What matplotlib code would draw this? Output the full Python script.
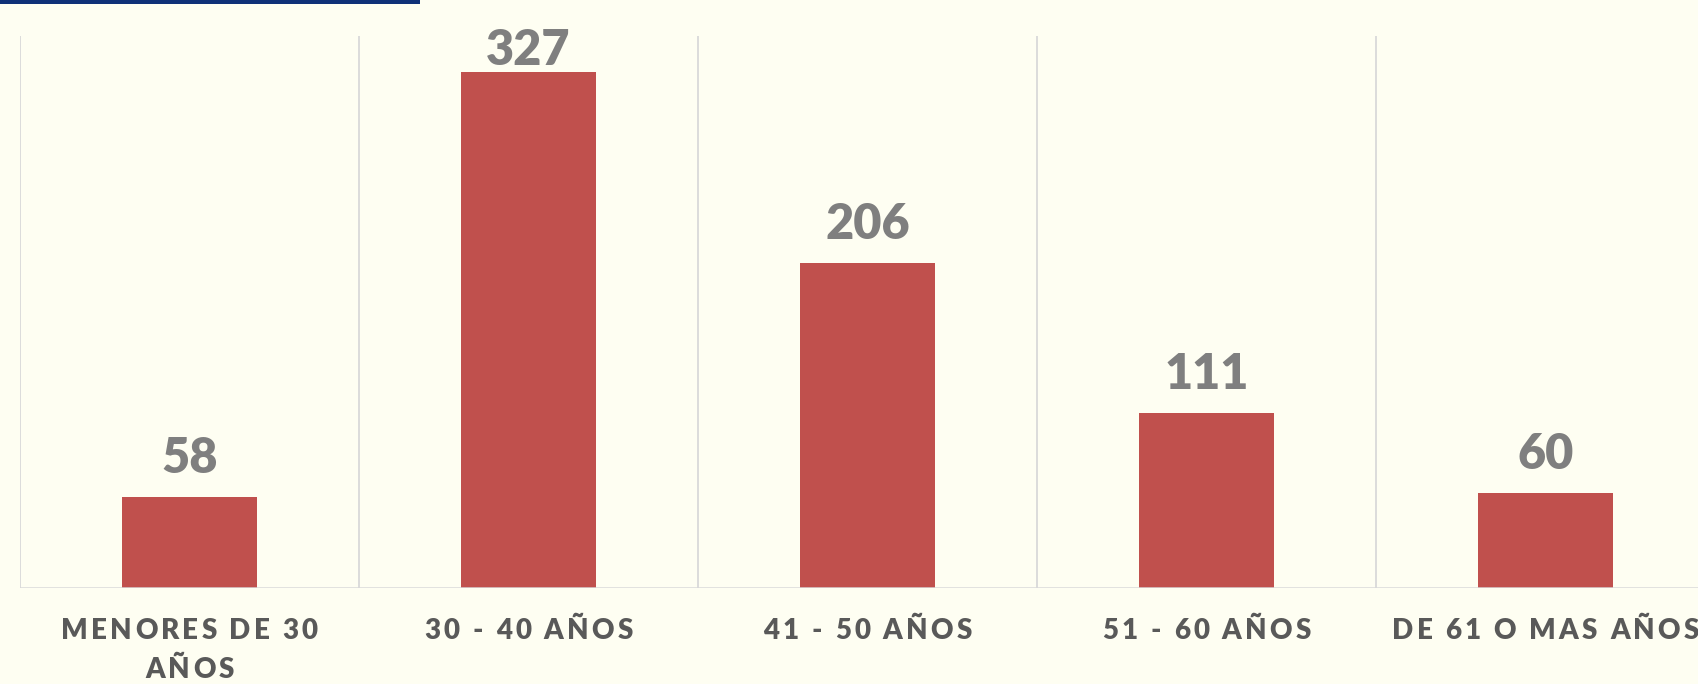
import matplotlib
matplotlib.use("Agg")
import matplotlib.pyplot as plt
from matplotlib.font_manager import FontProperties, findfont
from matplotlib.transforms import IdentityTransform
from matplotlib.patches import Rectangle
import numpy as np

categories = ["MENORES DE 30\nAÑOS", "30 - 40 AÑOS", "41 - 50 AÑOS", "51 - 60 AÑOS", "DE 61 O MAS AÑOS"]
values = [58, 327, 206, 111, 60]

BG = "#FEFEF2"
BAR = "#C0504D"
GRID = "#D9D9D9"
W, H = 1698, 684
DPI = 100

fig = plt.figure(figsize=(W / DPI, H / DPI), dpi=DPI, facecolor=BG)
fig.patches.append(Rectangle((0, 1 - 4 / H), 420 / W, 4 / H, transform=fig.transFigure,
                             facecolor="#0F3178", edgecolor="none"))

ax_left, ax_right = 20, 20 + 5 * 339
ax_top, ax_bot = 36, 588
ax = fig.add_axes([ax_left / W, 1 - ax_bot / H, (ax_right - ax_left) / W, (ax_bot - ax_top) / H])
ax.patch.set_alpha(0)
x = np.arange(len(values))
ax.bar(x, values, width=0.4, color=BAR, zorder=3)
ax.set_xlim(-0.5, len(values) - 0.5)
ax.set_ylim(0, 350)
for b in np.arange(-0.5, len(values), 1.0):
    ax.axvline(b, color=GRID, lw=1.3, zorder=1)
ax.axhline(0, color=GRID, lw=1.8, zorder=4)
for s in ax.spines.values():
    s.set_visible(False)
ax.set_xticks([])
ax.set_yticks([])

fpv = FontProperties(family="Lato", weight="heavy", size=35)
for xi, v in zip(x, values):
    px, py = ax.transData.transform((xi, v))
    top_from_top = H - py
    base = max(top_from_top - 24, 65)
    fig.text(px, H - base, str(v), transform=IdentityTransform(), fontproperties=fpv,
             color="#7F7F7F", ha="center", va="baseline")

fp = FontProperties(family="Lato", weight="heavy", size=20)
renderer = fig.canvas.get_renderer()
SP = 3.2


def tw(s):
    if not s:
        return 0.0
    w, h, d = renderer.get_text_width_height_descent(s, fp, ismath=False)
    return w


def spaced(text, cx, base_y_top):
    total = tw(text) + SP * (len(text) - 1)
    x0 = cx - total / 2
    y = H - base_y_top
    for i, ch in enumerate(text):
        if ch == " ":
            continue
        xx = x0 + tw(text[:i]) + SP * i
        fig.text(xx, y, ch, transform=IdentityTransform(), fontproperties=fp,
                 color="#595959", ha="left", va="baseline")


for xi, lab in zip(x, categories):
    cx = ax.transData.transform((xi, 0))[0]
    for j, line in enumerate(lab.split("\n")):
        spaced(line, cx, 639 + 38.5 * j)

fig.savefig("out.png", dpi=DPI, facecolor=BG)
